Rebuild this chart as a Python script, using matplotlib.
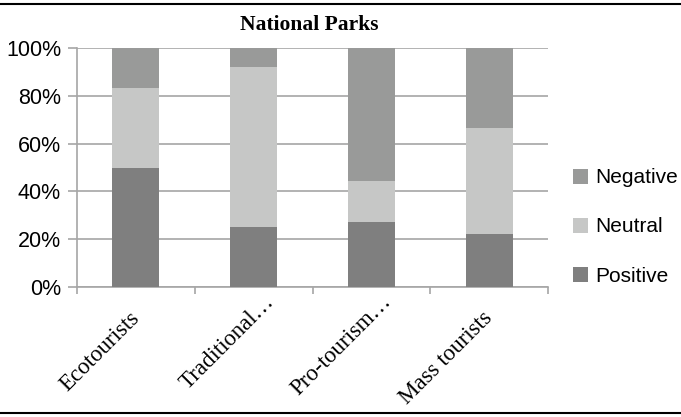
import matplotlib.pyplot as plt
import numpy as np
from matplotlib.lines import Line2D

categories = ['Ecotourists', 'Traditional\u2026', 'Pro-tourism\u2026', 'Mass tourists']
positive = [50.0, 25.0, 27.3, 22.2]
neutral = [33.3, 67.0, 17.1, 44.5]
negative = [16.7, 8.0, 55.6, 33.3]

col_pos = '#7f7f7f'
col_neu = '#c6c7c6'
col_neg = '#999a99'
grid_col = '#a6a6a6'

fig = plt.figure(figsize=(6.81, 4.17), dpi=100)
ax = fig.add_axes([77/681, 1-287/417, (548-77)/681, (287-48)/417])

x = np.arange(len(categories))
w = 0.4
pos = np.array(positive)
neu = np.array(neutral)
neg = np.array(negative)
ax.bar(x, pos, w, color=col_pos, label='Positive', zorder=3)
ax.bar(x, neu, w, bottom=pos, color=col_neu, label='Neutral', zorder=3)
ax.bar(x, neg, w, bottom=pos+neu, color=col_neg, label='Negative', zorder=3)

ax.set_xlim(-0.5, len(categories)-0.5)
ax.set_ylim(0, 100)
ax.set_yticks(range(0, 101, 20))
ax.set_yticklabels(['%d%%' % v for v in range(0, 101, 20)], fontfamily='Liberation Sans', fontsize=15.5)
ax.yaxis.grid(True, color=grid_col, linewidth=1.2, zorder=0)

# ticks between categories
ax.set_xticks(np.arange(-0.5, len(categories), 1))
ax.set_xticklabels([])
ax.tick_params(axis='x', length=5, color=grid_col, width=1.2)
ax.tick_params(axis='y', length=6.5, color=grid_col, width=1.2, pad=5)

# rotated category labels, anchored at the end of the text
for i, c in enumerate(categories):
    if c.endswith('\u2026'):
        off = (15, -11)
    else:
        off = (3, -23)
    ax.annotate(c, xy=(i, 0), xycoords='data', xytext=off, textcoords='offset points',
                rotation=45, ha='right', va='baseline', rotation_mode='anchor',
                fontfamily='Liberation Serif', fontsize=16.5, annotation_clip=False)

for s in ['top', 'right']:
    ax.spines[s].set_visible(False)
for s in ['left', 'bottom']:
    ax.spines[s].set_color(grid_col)
    ax.spines[s].set_linewidth(1.2)

fig.text(309/681, 1-25/417, 'National Parks', ha='center', va='center',
         fontfamily='Liberation Serif', fontweight='bold', fontsize=15.5)

h, l = ax.get_legend_handles_labels()
fig.legend(h[::-1], l[::-1], loc='center left', bbox_to_anchor=(573/681, 1-227/417),
           frameon=False, prop={'family': 'Liberation Sans', 'size': 15},
           handlelength=0.72, handleheight=0.72, handletextpad=0.35, labelspacing=1.44,
           borderpad=0, borderaxespad=0)

fig.add_artist(Line2D([0, 1], [1-4/417, 1-4/417], color='black', linewidth=1.5))
fig.add_artist(Line2D([0, 1], [1-413/417, 1-413/417], color='black', linewidth=1.5))

fig.savefig('out.png', dpi=100)
